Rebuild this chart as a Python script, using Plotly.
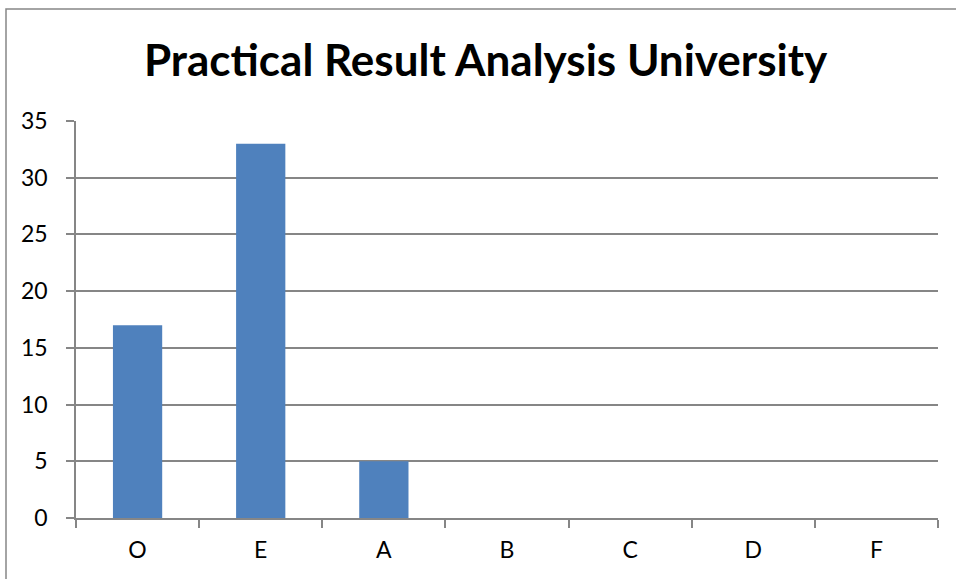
import plotly.graph_objects as go

# Grade distribution for the practical exam
grades = ["O", "E", "A", "B", "C", "D", "F"]
students = [17, 33, 5, 0, 0, 0, 0]

title_text = "Practical Result Analysis University"
y_ticks = [0, 5, 10, 15, 20, 25, 30, 35]

W, H = 956, 579
L, R, T, B = 76, 18, 121, 61
pw, ph = W - L - R, H - T - B

axis_grey = "#868686"
font_family = "Lato, 'Open Sans', sans-serif"

fig = go.Figure(
    go.Bar(
        x=grades,
        y=students,
        marker=dict(color="#4F81BD", line=dict(width=0)),
        width=0.4,
    )
)

fig.update_layout(
    width=W,
    height=H,
    margin=dict(l=L, r=R, t=T, b=B),
    paper_bgcolor="white",
    plot_bgcolor="white",
    showlegend=False,
    title=dict(
        text="<b>" + title_text + "</b>",
        x=0.508,
        xanchor="center",
        y=1 - 61 / H,
        yanchor="middle",
        font=dict(family=font_family, size=44, color="black"),
    ),
    font=dict(family=font_family, size=23, color="black"),
)

fig.update_xaxes(
    type="category",
    tickson="boundaries",
    ticks="outside",
    ticklen=8,
    tickcolor=axis_grey,
    tickwidth=1.5,
    showline=True,
    linecolor=axis_grey,
    linewidth=1.5,
    showgrid=False,
    tickfont=dict(size=23),
    ticklabelstandoff=11,
)

fig.update_yaxes(
    range=[0, 35],
    tickvals=y_ticks,
    ticks="outside",
    ticklen=8,
    tickcolor=axis_grey,
    tickwidth=1.5,
    showline=True,
    linecolor=axis_grey,
    linewidth=1.5,
    showgrid=True,
    gridcolor=axis_grey,
    gridwidth=1.5,
    zeroline=False,
    tickfont=dict(size=23),
    ticklabelstandoff=14,
)

# Chart frame running off the right and bottom edges
fig.add_shape(
    type="rect",
    xref="paper",
    yref="paper",
    x0=(6 - L) / pw,
    x1=(W + 20 - L) / pw,
    y0=-(H + 20 - (H - B)) / ph,
    y1=(H - B - 9) / ph,
    line=dict(color=axis_grey, width=1.5),
    fillcolor="rgba(0,0,0,0)",
    layer="below",
)

fig.write_html("out.html")
